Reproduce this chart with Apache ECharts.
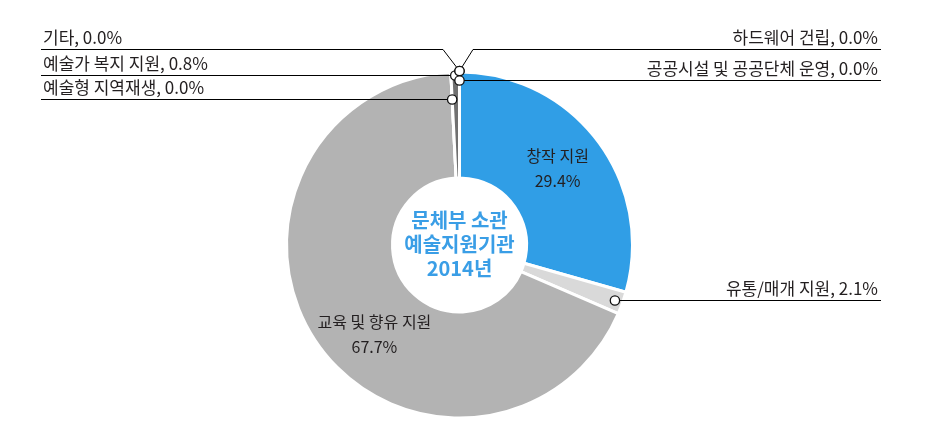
<!DOCTYPE html>
<html>
<head>
<meta charset="utf-8">
<script src="https://cdn.jsdelivr.net/npm/echarts@6/dist/echarts.min.js"></script>
<style>
html,body{margin:0;padding:0;background:#fff;}
#c{width:946px;height:443px;}
</style>
</head>
<body>
<div id="c"></div>
<script>
// ---- data ----
const categories = ['창작 지원', '유통/매개 지원', '교육 및 향유 지원', '예술형 지역재생', '예술가 복지 지원', '기타', '하드웨어 건립', '공공시설 및 공공단체 운영'];
const shares = [29.4, 2.1, 67.7, 0.0, 0.8, 0.0, 0.0, 0.0];
const centerTitle = ['문체부 소관', '예술지원기관', '2014년'];

// ---- layout & style ----
const CX = 459.5, CY = 245, R0 = 67, R = 173;
const FONT = "'Noto Sans CJK KR', 'Noto Sans', sans-serif";
const sliceColors = ['#309ee6', '#d9d9d9', '#b3b3b3', '#b3b3b3', '#707070', '#707070', '#309ee6', '#309ee6'];
const insideCfg = {
  '창작 지원': { dx: 0, dy: -2 },
  '교육 및 향유 지원': { dx: 16, dy: 19 }
};
const outsideCfg = {
  '유통/매개 지원': { side: 'right', rc: 165 },
  '예술형 지역재생': { side: 'left', rc: 146 },
  '예술가 복지 지원': { side: 'left', rc: 170 },
  '기타': { side: 'left', rc: 174, lineY: 49, elbowX: 443 },
  '하드웨어 건립': { side: 'right', rc: 174, lineY: 49, elbowX: 473 },
  '공공시설 및 공공단체 운영': { side: 'right', rc: 165 }
};
const LEFT_TEXT_X = 43, LEFT_LINE_X = 41, RIGHT_TEXT_X = 878, RIGHT_LINE_X = 881;

function anchorOf(params, rc) {
  const p = params.labelLinePoints && params.labelLinePoints[0];
  if (!p) return null;
  const a = Math.atan2(p[1] - CY, p[0] - CX);
  return [CX + rc * Math.cos(a), CY + rc * Math.sin(a)];
}
// crisp 1px line: snap to half pixel
function lineYOf(cfg, a) {
  return (cfg.lineY != null ? cfg.lineY : Math.round(a[1])) + 0.5;
}

const basePie = {
  type: 'pie',
  center: [CX, CY],
  radius: [R0, R],
  startAngle: 90,
  clockwise: true,
  avoidLabelOverlap: false,
  emphasis: { disabled: true }
};

const chart = echarts.init(document.getElementById('c'), null, { renderer: 'canvas' });

const option = {
  animation: false,
  backgroundColor: '#fff',
  graphic: [{
    type: 'text',
    x: CX,
    y: 244,
    z: 10,
    style: {
      text: centerTitle.join('\n'),
      fontFamily: FONT,
      fontSize: 20,
      fontWeight: 'bold',
      lineHeight: 24,
      fill: '#3a9ee6',
      align: 'center',
      verticalAlign: 'middle'
    }
  }],
  series: [
    // slices + inside labels
    Object.assign({}, basePie, {
      z: 2,
      itemStyle: { borderColor: '#fff', borderWidth: 3 },
      label: {
        show: true,
        position: 'inside',
        fontFamily: FONT,
        fontSize: 16,
        color: '#231f20',
        lineHeight: 25,
        formatter: function (p) { return p.name + '\n' + p.value.toFixed(1) + '%'; }
      },
      labelLine: { show: false },
      data: categories.map(function (n, i) {
        return { name: n, value: shares[i], itemStyle: { color: sliceColors[i] }, label: { show: !!insideCfg[n] } };
      }),
      labelLayout: function (params) {
        const cfg = insideCfg[categories[params.dataIndex]];
        if (!cfg) return {};
        return { dx: cfg.dx, dy: cfg.dy };
      }
    }),
    // outside labels + leader lines (drawn above slices)
    Object.assign({}, basePie, {
      z: 4,
      silent: true,
      itemStyle: { color: 'rgba(0,0,0,0)', borderWidth: 0 },
      label: {
        show: true,
        position: 'outside',
        fontFamily: FONT,
        fontSize: 17,
        color: '#231f20',
        lineHeight: 19,
        formatter: function (p) { return p.name + ', ' + p.value.toFixed(1) + '%'; }
      },
      labelLine: { show: true, length: 10, length2: 10, lineStyle: { color: '#000', width: 1 } },
      data: categories.map(function (n, i) {
        return { name: n, value: shares[i], label: { show: !!outsideCfg[n] }, labelLine: { show: !!outsideCfg[n] } };
      }),
      labelLayout: function (params) {
        const cfg = outsideCfg[categories[params.dataIndex]];
        if (!cfg) return {};
        const a = anchorOf(params, cfg.rc);
        if (!a) return {};
        const lineY = lineYOf(cfg, a);
        if (cfg.lineY == null) a[1] = lineY;
        const left = cfg.side === 'left';
        const elbow = [cfg.elbowX != null ? cfg.elbowX : a[0], lineY];
        return {
          x: left ? LEFT_TEXT_X : RIGHT_TEXT_X,
          y: lineY - 12,
          align: left ? 'left' : 'right',
          verticalAlign: 'middle',
          labelLinePoints: [a, elbow, [left ? LEFT_LINE_X : RIGHT_LINE_X, lineY]]
        };
      }
    }),
    // circle markers at the leader line anchors
    Object.assign({}, basePie, {
      z: 6,
      silent: true,
      itemStyle: { color: 'rgba(0,0,0,0)', borderWidth: 0 },
      label: {
        show: true,
        position: 'outside',
        formatter: ' ',
        fontSize: 6,
        width: 8,
        height: 8,
        padding: 0,
        backgroundColor: '#fff',
        borderColor: '#111',
        borderWidth: 1.3,
        borderRadius: 4
      },
      labelLine: { show: true, lineStyle: { opacity: 0 } },
      data: categories.map(function (n, i) {
        return { name: n, value: shares[i], label: { show: !!outsideCfg[n] }, labelLine: { show: !!outsideCfg[n] } };
      }),
      labelLayout: function (params) {
        const cfg = outsideCfg[categories[params.dataIndex]];
        if (!cfg) return {};
        const a = anchorOf(params, cfg.rc);
        if (!a) return {};
        if (cfg.lineY == null) a[1] = lineYOf(cfg, a);
        return { x: a[0], y: a[1], align: 'center', verticalAlign: 'middle' };
      }
    })
  ]
};
chart.setOption(option);
</script>
</body>
</html>
